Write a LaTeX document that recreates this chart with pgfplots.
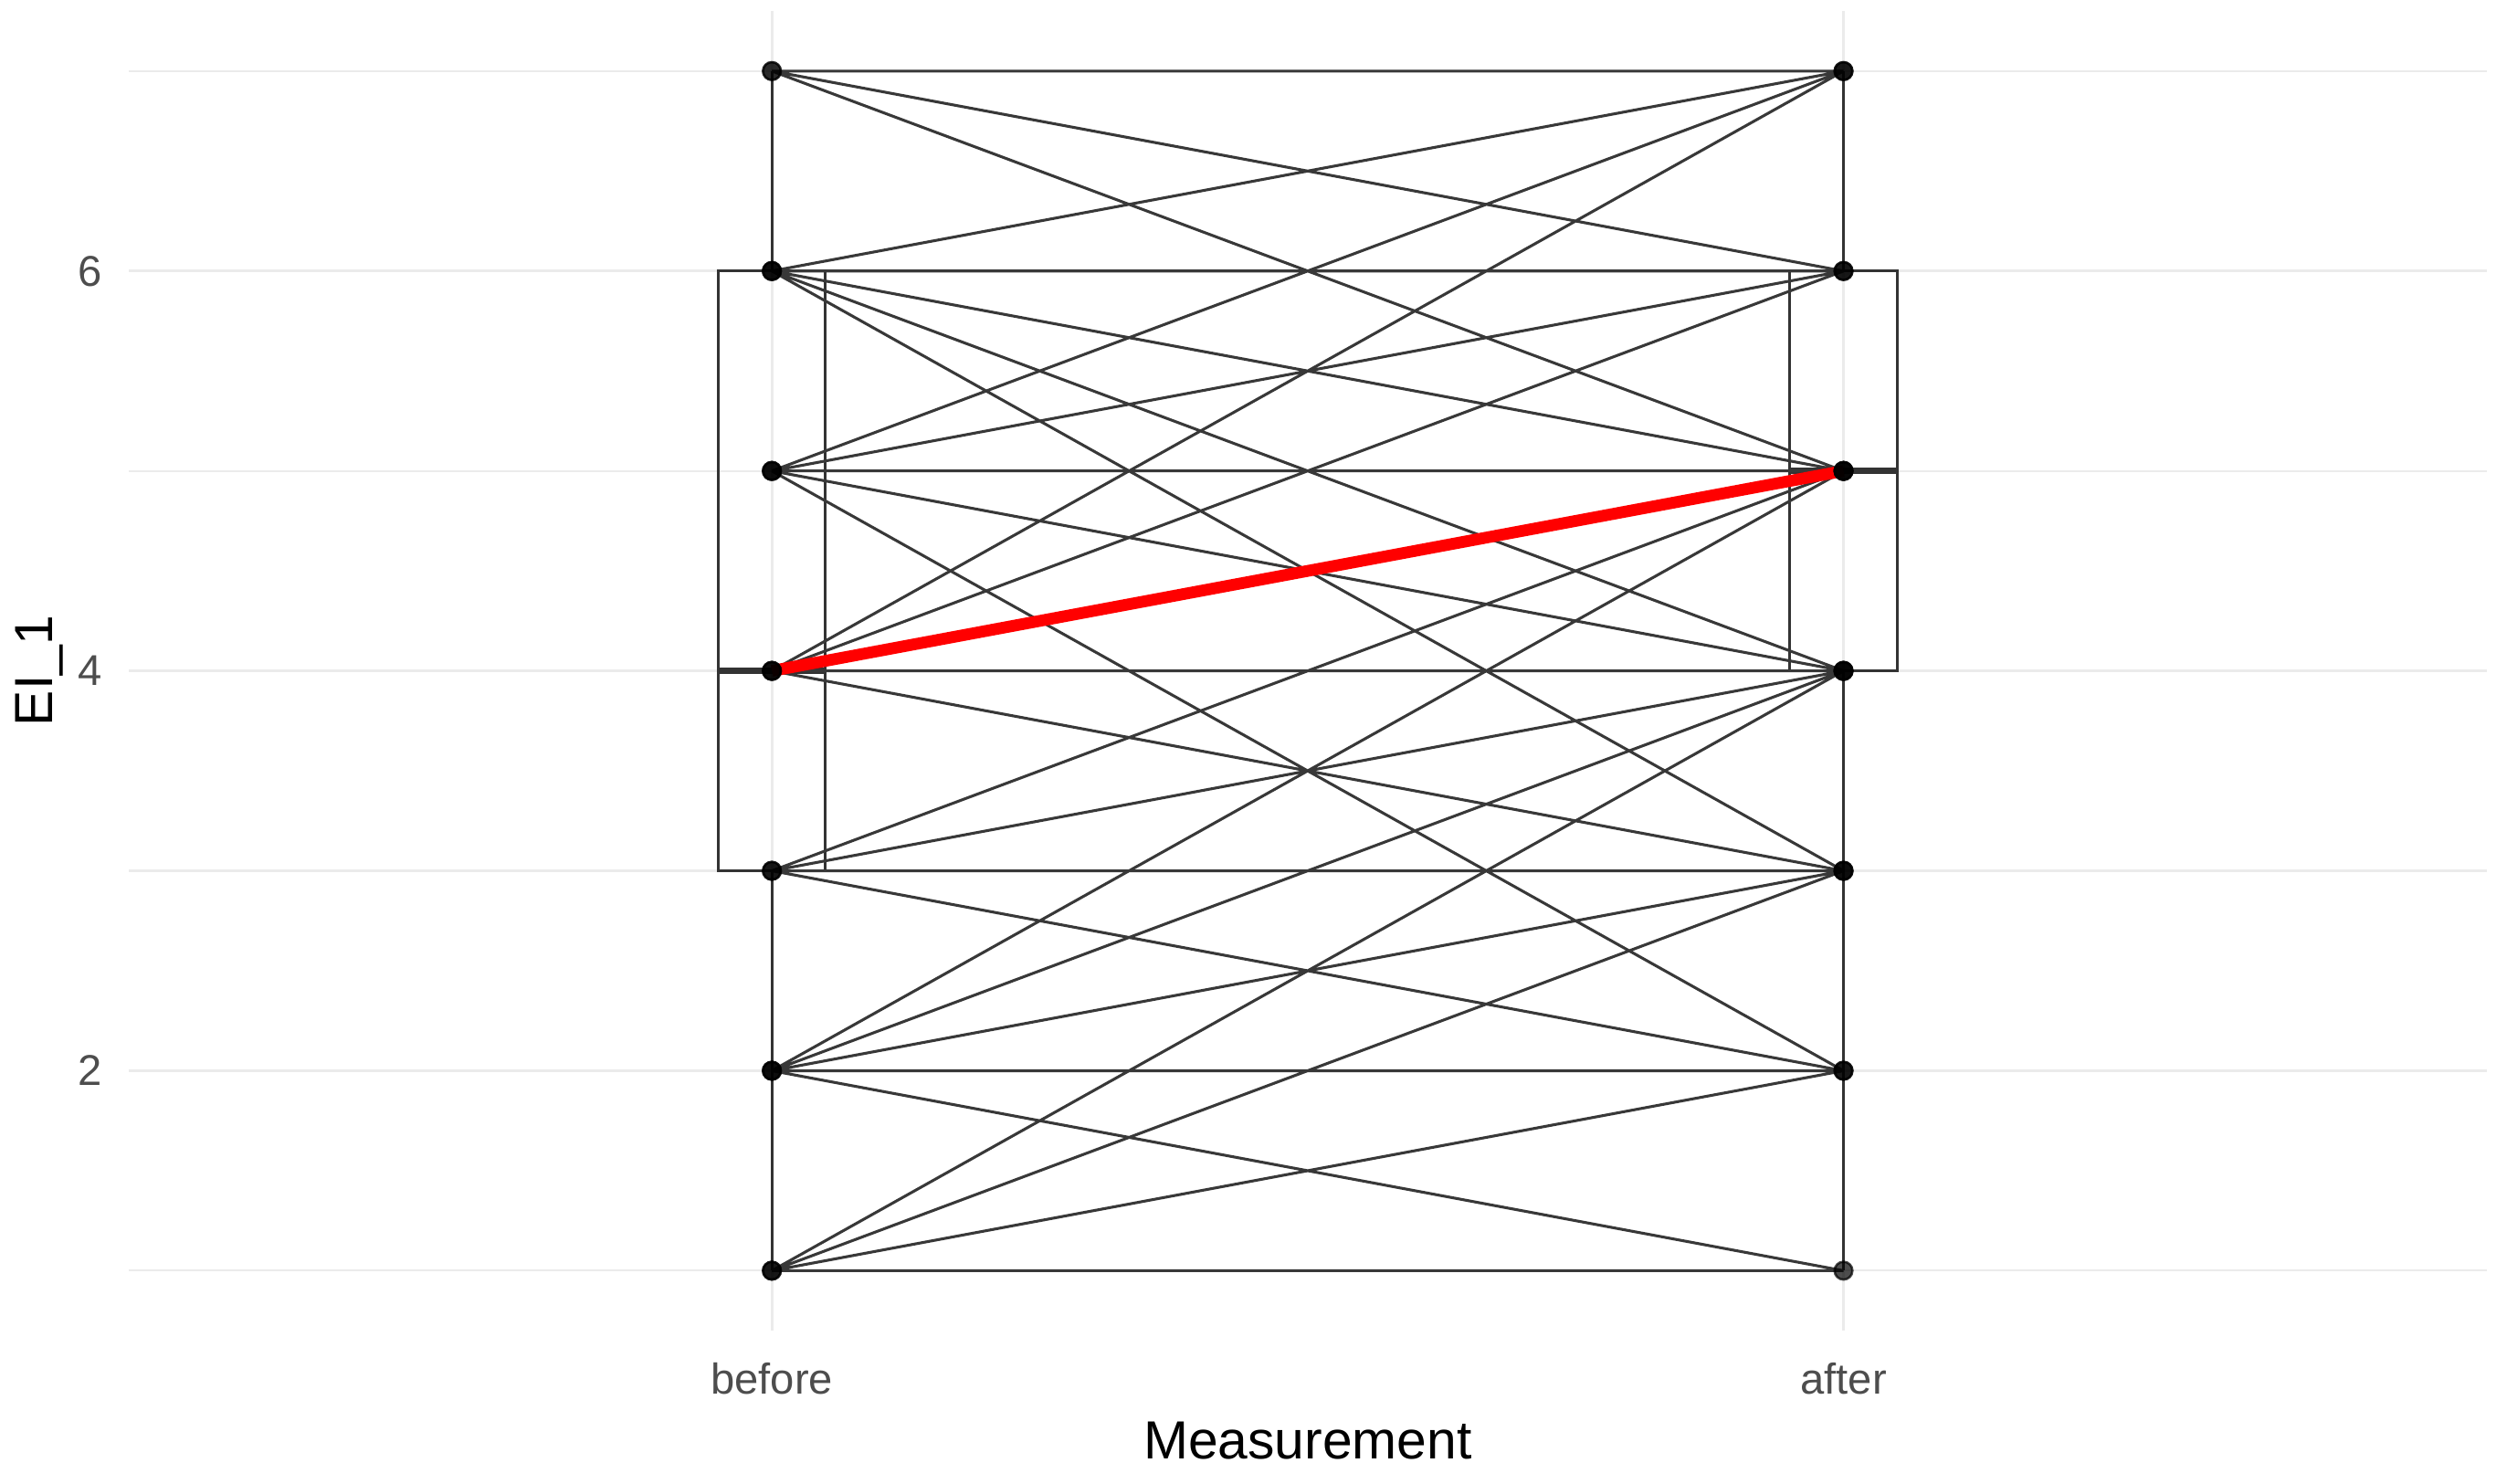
\documentclass[border=0pt]{standalone}
\usepackage{pgfplots}
\pgfplotsset{compat=1.18}
\usepackage{pgfplotstable}
\usepgfplotslibrary{statistics}
\usepackage{fontspec}
\setmainfont{Liberation Sans}

% paired observations: before (x=1) -> after (x=2), nan rows break the lines
\pgfplotstableread{
x y
1 7
2 7
nan nan
1 7
2 6
nan nan
1 7
2 5
nan nan
1 6
2 7
nan nan
1 6
2 6
nan nan
1 6
2 5
nan nan
1 6
2 4
nan nan
1 6
2 3
nan nan
1 5
2 7
nan nan
1 5
2 6
nan nan
1 5
2 5
nan nan
1 5
2 4
nan nan
1 5
2 2
nan nan
1 4
2 7
nan nan
1 4
2 6
nan nan
1 4
2 5
nan nan
1 4
2 4
nan nan
1 4
2 3
nan nan
1 3
2 5
nan nan
1 3
2 4
nan nan
1 3
2 3
nan nan
1 3
2 2
nan nan
1 2
2 5
nan nan
1 2
2 4
nan nan
1 2
2 3
nan nan
1 2
2 2
nan nan
1 2
2 1
nan nan
1 1
2 4
nan nan
1 1
2 3
nan nan
1 1
2 2
nan nan
1 1
2 1
}\pairs

\definecolor{gridc}{HTML}{EBEBEB}
\definecolor{tickc}{HTML}{4D4D4D}

\begin{document}
\begin{tikzpicture}
\begin{axis}[
    scale only axis,
    width=14.81cm, height=8.29cm,
    xmin=0.4, xmax=2.6, ymin=0.7, ymax=7.3,
    xtick={1,2}, xticklabels={before,after},
    ytick={2,4,6}, minor ytick={1,3,5,7},
    grid=both,
    major grid style={gridc, line width=0.45pt},
    minor grid style={gridc, line width=0.35pt},
    axis line style={draw=none},
    major tick length=0pt, minor tick length=0pt,
    tick style={draw=none},
    /pgf/number format/assume math mode=true,
    ticklabel style={font=\fontsize{7.7}{9}\selectfont, text=tickc, inner sep=0pt},
    xticklabel style={anchor=center, yshift=-0.30cm},
    yticklabel style={anchor=east, xshift=-0.16cm},
    xlabel={Measurement},
    ylabel={EI\_1},
    label style={font=\fontsize{9.6}{11}\selectfont, text=black, inner sep=0pt},
    xlabel style={at={(axis description cs:0.5,-0.0832)}, anchor=center},
    ylabel style={at={(axis description cs:-0.0378,0.5)}, anchor=center},
    clip=false,
]
% boxplots
\addplot[draw=black!80, line width=0.5pt,
    boxplot prepared={draw position=1, draw direction=y, box extend=0.1, whisker extend=0,
        lower whisker=1, lower quartile=3, median=4, upper quartile=6, upper whisker=7,
        every median/.style={line width=1.1pt}}] coordinates {};
\addplot[draw=black!80, line width=0.5pt,
    boxplot prepared={draw position=2, draw direction=y, box extend=0.1, whisker extend=0,
        lower whisker=1, lower quartile=4, median=5, upper quartile=6, upper whisker=7,
        every median/.style={line width=1.1pt}}] coordinates {};
% paired lines
\addplot[black!78, line width=0.5pt, unbounded coords=jump] table[x=x, y=y] {\pairs};
% points
\addplot[only marks, mark=*, mark size=1.6pt, black, opacity=0.45, unbounded coords=discard] table[x=x, y=y] {\pairs};
% medians
\addplot[red, line width=2.1pt] coordinates {(1,4)(2,5)};
\end{axis}
\path (current axis.south west) ++(-0.81cm,-0.96cm) (current axis.north east) ++(0.06cm,0.07cm);
\end{tikzpicture}
\end{document}
